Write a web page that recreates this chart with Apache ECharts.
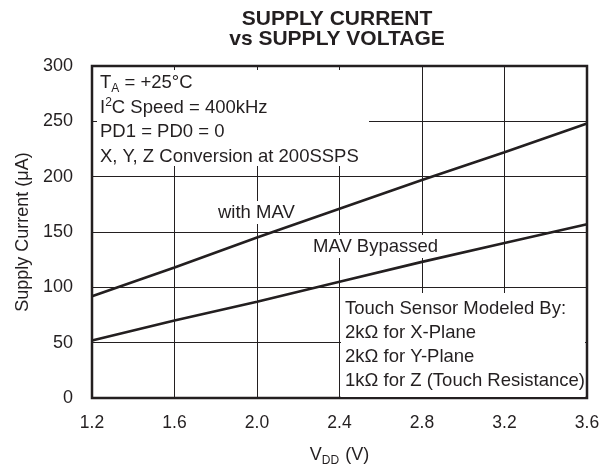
<!DOCTYPE html>
<html>
<head>
<meta charset="utf-8">
<script src="https://cdn.jsdelivr.net/npm/echarts@6/dist/echarts.min.js"></script>
<style>
  html, body { margin: 0; padding: 0; background: #fff; }
  #main { width: 613px; height: 472px; }
</style>
</head>
<body>
<div id="main"></div>
<script>
var vdd = [1.2, 1.6, 2.0, 2.4, 2.8, 3.2, 3.6];
var withMav = [92, 118, 145, 171, 197, 222, 248];
var mavBypassed = [52, 70, 87, 105, 123, 140, 157];
var yTicks = [0, 50, 100, 150, 200, 250, 300];

var ink = '#231f20';
var font = 'Liberation Sans, Arial, sans-serif';

function pairs(xs, ys) {
    return xs.map(function (x, i) { return [x, ys[i]]; });
}

var myChart = echarts.init(document.getElementById('main'));

var option = {
    animation: false,
    textStyle: { fontFamily: font, color: ink },
    grid: {
        left: 92, right: 26, top: 66, bottom: 71,
        show: true, borderColor: ink, borderWidth: 2.5
    },
    xAxis: {
        type: 'value',
        min: 1.2, max: 3.6, interval: 0.4,
        axisLine: { show: false },
        axisTick: { show: false },
        axisLabel: {
            margin: 16, fontSize: 17.5, color: ink, fontFamily: font,
            formatter: function (v) { return v.toFixed(1); }
        },
        splitLine: { lineStyle: { color: ink, width: 1 } },
        name: '{n|V}{s|DD}{n| (V)}',
        nameLocation: 'middle',
        nameGap: 46,
        nameTextStyle: {
            rich: {
                n: { fontSize: 18, color: ink, fontFamily: font },
                s: { fontSize: 12, color: ink, fontFamily: font, padding: [11, 1, 0, 0] }
            }
        }
    },
    yAxis: {
        type: 'value',
        min: yTicks[0], max: yTicks[yTicks.length - 1], interval: 50,
        axisLine: { show: false },
        axisTick: { show: false },
        axisLabel: { margin: 19, fontSize: 18, color: ink, fontFamily: font },
        splitLine: { lineStyle: { color: ink, width: 1 } },
        name: 'Supply Current (\u03bcA)',
        nameLocation: 'middle',
        nameGap: 56,
        nameTextStyle: { fontSize: 18, color: ink, fontFamily: font }
    },
    series: [
        {
            name: 'with MAV',
            type: 'line',
            data: pairs(vdd, withMav),
            symbol: 'none',
            z: 10,
            lineStyle: { color: ink, width: 2.6 }
        },
        {
            name: 'MAV Bypassed',
            type: 'line',
            data: pairs(vdd, mavBypassed),
            symbol: 'none',
            z: 10,
            lineStyle: { color: ink, width: 2.6 }
        }
    ],
    graphic: [
        {
            type: 'text', x: 337, y: 9.5,
            style: {
                text: 'SUPPLY CURRENT\nvs SUPPLY VOLTAGE',
                fill: ink, font: 'bold 21px ' + font,
                align: 'center', verticalAlign: 'top', lineHeight: 20
            }
        },
        {
            type: 'rect', z: 5,
            shape: { x: 97, y: 70, width: 272, height: 96 },
            style: { fill: '#fff' }
        },
        {
            type: 'text', z: 6, x: 100, y: 71,
            style: {
                text: '{n|T}{s|A}{n| = +25\u00b0C}\n{n|I}{p|2}{n|C Speed = 400kHz}\n{n|PD1 = PD0 = 0}\n{n|X, Y, Z Conversion at 200SSPS}',
                fill: ink,
                rich: {
                    n: { fontSize: 18.5, fontFamily: font, fill: ink, lineHeight: 24.5 },
                    s: { fontSize: 12, fontFamily: font, fill: ink, padding: [11, 0, 0, 0] },
                    p: { fontSize: 12, fontFamily: font, fill: ink, padding: [0, 0, 10, 0] }
                }
            }
        },
        {
            type: 'rect', z: 5,
            shape: { x: 341, y: 293, width: 244, height: 104 },
            style: { fill: '#fff' }
        },
        {
            type: 'text', z: 6, x: 345, y: 297,
            style: {
                text: 'Touch Sensor Modeled By:\n2k\u03a9 for X-Plane\n2k\u03a9 for Y-Plane\n1k\u03a9 for Z (Touch Resistance)',
                fill: ink, font: '18.5px ' + font, lineHeight: 24
            }
        },
        {
            type: 'text', z: 6, x: 216, y: 201,
            style: {
                text: 'with MAV', fill: ink, font: '18.5px ' + font,
                backgroundColor: '#fff', padding: [2, 2, 2, 2]
            }
        },
        {
            type: 'text', z: 6, x: 311, y: 235,
            style: {
                text: 'MAV Bypassed', fill: ink, font: '18.5px ' + font,
                backgroundColor: '#fff', padding: [2, 2, 2, 2]
            }
        }
    ]
};
myChart.setOption(option);
</script>
</body>
</html>
